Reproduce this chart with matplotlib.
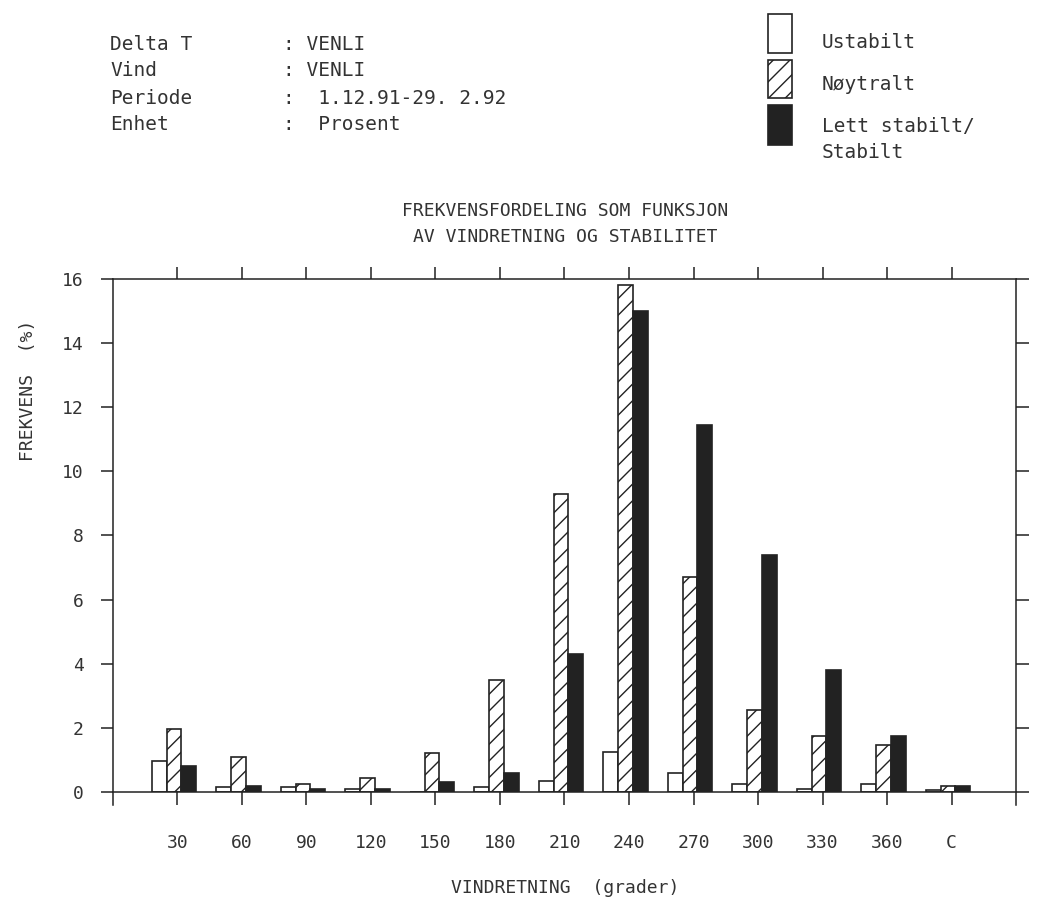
import numpy as np
import matplotlib
matplotlib.use('Agg')
from matplotlib import pyplot as plt

# frequency (%) per wind direction sector and stability class
sectors = ['30', '60', '90', '120', '150', '180', '210', '240', '270', '300', '330', '360', 'C']
ustabilt = [0.95, 0.15, 0.15, 0.1, 0.0, 0.15, 0.35, 1.25, 0.6, 0.25, 0.1, 0.25, 0.05]
noytralt = [1.95, 1.1, 0.25, 0.45, 1.2, 3.5, 9.3, 15.8, 6.7, 2.55, 1.75, 1.45, 0.2]
stabilt = [0.8, 0.2, 0.1, 0.1, 0.3, 0.6, 4.3, 15.0, 11.45, 7.4, 3.8, 1.75, 0.2]

ink = '#222222'
txt = '#333333'
plt.rcParams['font.family'] = ['DejaVu Sans Mono']
plt.rcParams['hatch.linewidth'] = 1.0
plt.rcParams['hatch.color'] = ink

fig = plt.figure(figsize=(10.59, 9.02), dpi=100)
ax = fig.add_axes([0.1067, 0.122, 0.8527, 0.5687])

x = np.arange(1, len(sectors) + 1)
w = 0.23
ax.bar(x - 0.285, ustabilt, w, facecolor='white', edgecolor=ink, linewidth=1.2)
ax.bar(x - 0.055, noytralt, w, facecolor='white', edgecolor=ink, linewidth=1.2, hatch='//')
ax.bar(x + 0.175, stabilt, w, facecolor=ink, edgecolor=ink, linewidth=1.2)

ax.set_xlim(0, 14)
ax.set_ylim(0, 16)
ax.set_xticks(x)
ax.set_xticklabels(sectors)
ax.set_yticks(range(0, 17, 2))
ax.tick_params(axis='both', direction='out', length=9, width=1.1, color=ink,
               labelsize=13, labelcolor=txt, top=True, right=True, pad=12)
ax.tick_params(axis='x', pad=21)
for side in ['left', 'right']:
    ax.spines[side].set_bounds(-0.4, 16)
for s in ax.spines.values():
    s.set_color(ink)
    s.set_linewidth(1.1)

fig.text(0.534, 1 - 888 / 902, 'VINDRETNING  (grader)', fontsize=13, color=txt,
         ha='center', va='center')
fig.text(0.026, 0.567, 'FREKVENS  (%)', rotation=90, fontsize=13, color=txt,
         ha='center', va='center')

fig.text(0.534, 0.766, 'FREKVENSFORDELING SOM FUNKSJON', fontsize=13, color=txt,
         ha='center', va='center')
fig.text(0.534, 0.737, 'AV VINDRETNING OG STABILITET', fontsize=13, color=txt,
         ha='center', va='center')

# station header
labels = ['Delta T', 'Vind', 'Periode', 'Enhet']
values = [': VENLI', ': VENLI', ':  1.12.91-29. 2.92', ':  Prosent']
for i, (lab, val) in enumerate(zip(labels, values)):
    yy = 1 - (44 + 27 * i) / 902
    fig.text(110 / 1059, yy, lab, fontsize=14, color=txt, va='center')
    fig.text(283 / 1059, yy, val, fontsize=14, color=txt, va='center')

# legend boxes
leg = fig.add_axes([0, 0, 1, 1], facecolor='none')
leg.set_xlim(0, 1059)
leg.set_ylim(902, 0)
leg.axis('off')
leg.add_patch(plt.Rectangle((768, 14), 24, 39, facecolor='white', edgecolor=ink, lw=1.2))
leg.add_patch(plt.Rectangle((768, 60), 24, 38, facecolor='white', edgecolor=ink, lw=1.2, hatch='//'))
leg.add_patch(plt.Rectangle((768, 105), 24, 40, facecolor=ink, edgecolor=ink, lw=1.2))
leg.text(822, 42, 'Ustabilt', fontsize=14, color=txt, va='center')
leg.text(822, 85, 'Nøytralt', fontsize=14, color=txt, va='center')
leg.text(822, 127, 'Lett stabilt/', fontsize=14, color=txt, va='center')
leg.text(822, 153, 'Stabilt', fontsize=14, color=txt, va='center')

fig.savefig('out.png', dpi=100, facecolor='white')
